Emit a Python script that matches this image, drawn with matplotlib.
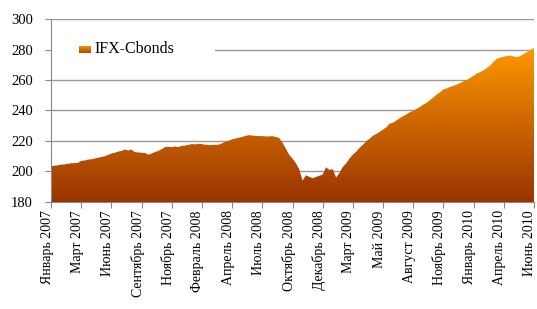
import numpy as np
import matplotlib.pyplot as plt
import matplotlib.transforms as mtransforms
from matplotlib.colors import LinearSegmentedColormap
from matplotlib.patches import Polygon, Rectangle

# IFX-Cbonds index values (roughly every 2-3 trading days)
index_values = [
    203.5, 203.8, 204.0, 204.5, 204.6, 205.0, 205.4, 205.5, 205.6,
    207.0, 207.2, 207.8, 208.0, 208.5, 209.0, 209.5, 210.0, 210.8,
    211.8, 212.3, 213.0, 213.5, 214.4, 213.8, 214.4, 212.7, 212.5,
    212.3, 212.2, 211.0, 211.8, 212.7, 213.5, 214.6, 216.0, 216.2,
    216.0, 216.4, 216.0, 216.8, 217.0, 217.5, 218.0, 217.8, 218.2,
    218.0, 217.5, 217.4, 217.4, 217.5, 217.6, 218.5, 219.5, 220.2,
    221.0, 221.6, 222.2, 222.6, 223.4, 223.8, 223.6, 223.3, 223.2,
    223.2, 223.0, 223.0, 223.2, 222.6, 222.0, 219.0, 215.0, 211.0,
    208.5, 205.5, 201.5, 194.0, 197.5, 196.5, 195.6, 196.4, 197.2,
    198.0, 202.8, 201.0, 201.5, 196.0, 199.0, 203.0, 205.3, 208.5,
    211.0, 213.0, 215.5, 217.5, 219.8, 221.5, 223.5, 224.6, 226.0,
    227.5, 229.0, 231.5, 232.0, 233.5, 235.0, 236.3, 237.5, 238.9,
    239.8, 241.1, 242.3, 243.9, 245.0, 246.8, 248.5, 250.5, 252.0,
    253.8, 254.5, 255.5, 256.2, 257.0, 258.0, 259.2, 260.0, 261.4,
    262.8, 264.3, 265.2, 266.4, 268.0, 269.5, 272.0, 274.0, 274.8,
    275.2, 275.8, 276.0, 275.4, 275.0, 275.8, 277.2, 278.4, 279.8,
    281.0,
]

# Month labels, one every 9 points
month_labels = [
    "Январь 2007", "Март 2007", "Июнь 2007", "Сентябрь 2007", "Ноябрь 2007",
    "Февраль 2008", "Апрель 2008", "Июль 2008", "Октябрь 2008", "Декабрь 2008",
    "Март 2009", "Май 2009", "Август 2009", "Ноябрь 2009", "Январь 2010",
    "Апрель 2010", "Июнь 2010",
]
y_ticks = [180, 200, 220, 240, 260, 280, 300]

plt.rcParams["font.family"] = ["Liberation Serif", "DejaVu Serif"]

x = np.arange(len(index_values))
step = 9
y_min, y_max = 180, 300

fig = plt.figure(figsize=(5.37, 3.09), dpi=100)
ax = fig.add_axes([0.095, 0.3463, 0.8994, 0.5922])

# Gridlines
for v in y_ticks[1:]:
    ax.axhline(v, color="#999999", linewidth=1.0, zorder=1)

# Area with vertical gradient (dark brown at bottom -> orange at top)
cmap = LinearSegmentedColormap.from_list("ifx", ["#993300", "#FF9900"])
grad = np.linspace(0, 1, 256).reshape(-1, 1)
verts = [(x[0], y_min)] + list(zip(x, index_values)) + [(x[-1], y_min)]
area = Polygon(verts, closed=True, facecolor="none", edgecolor="none")
ax.add_patch(area)
img = ax.imshow(grad, extent=[x[0], x[-1], y_min, 282], origin="lower",
                aspect="auto", cmap=cmap, zorder=2)
img.set_clip_path(area)

# Legend drawn by hand (white box hides the gridline behind it)
ax.add_patch(Rectangle((0.0, 275), 0.34, 10, transform=ax.get_yaxis_transform(),
                       facecolor="white", edgecolor="none", zorder=3))
ax_leg = fig.add_axes([0.095 + 0.8994 * 0.058, 1 - 53.5 / 309, 0.8994 * 0.023, 7.5 / 309])
ax_leg.imshow(grad, origin="lower", aspect="auto", cmap=LinearSegmentedColormap.from_list(
    "leg", ["#B04A00", "#FF9900"]), extent=[0, 1, 0, 1])
ax_leg.axis("off")
ax.text(0.091, 280.3, "IFX-Cbonds", transform=ax.get_yaxis_transform(),
        fontsize=11.5, va="center", ha="left", color="black", zorder=4)

ax.set_xlim(x[0], x[-1])
ax.set_ylim(y_min, y_max)
ax.set_yticks(y_ticks)
ax.set_xticks(x[::step])
ax.set_xticklabels(month_labels, rotation=90, fontsize=10)
ax.tick_params(axis="y", labelsize=10.5, length=4, color="#888888", pad=9)
ax.tick_params(axis="x", length=4, color="#888888", pad=2)

# shift month labels a little to the left of their ticks, as in the original
shift = mtransforms.ScaledTranslation(-4 / 100, 0, fig.dpi_scale_trans)
for lbl in ax.get_xticklabels():
    lbl.set_transform(lbl.get_transform() + shift)

for side in ["top", "right"]:
    ax.spines[side].set_visible(False)
for side in ["left", "bottom"]:
    ax.spines[side].set_color("#888888")
    ax.spines[side].set_zorder(5)

fig.savefig("out.png", dpi=100, facecolor="white")
